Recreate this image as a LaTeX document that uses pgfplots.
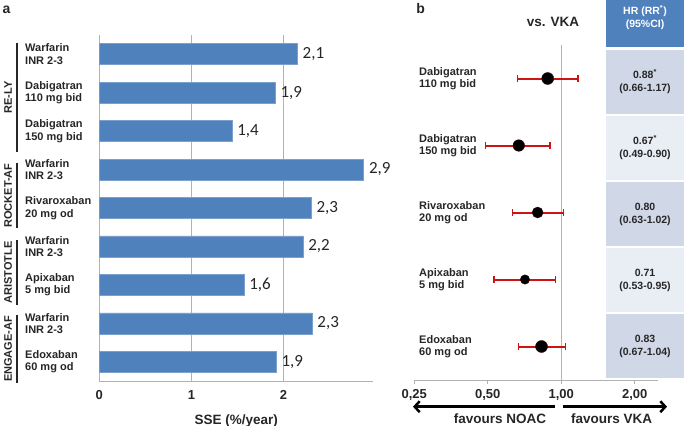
\documentclass[border=0pt]{standalone}
\usepackage{fontspec}
\setmainfont{Liberation Sans}
\newfontfamily\calibri{Carlito}
\usepackage{pgfplots}
\pgfplotsset{compat=1.18}
\usetikzlibrary{arrows.meta}

\definecolor{barblue}{HTML}{4F81BD}
\definecolor{headblue}{HTML}{4F81BD}
\definecolor{rowdark}{HTML}{D0D8E8}
\definecolor{rowlight}{HTML}{E9EDF4}
\definecolor{cired}{HTML}{CC1414}
\definecolor{txt}{HTML}{262626}

\newcommand{\lab}{\fontsize{11bp}{12.5bp}\selectfont\bfseries}

% panel a: SSE per arm (bar length, printed label)
\pgfplotstableread{
x y lab
2.15 0 2,1
1.91 1 1,9
1.44 2 1,4
2.87 3 2,9
2.30 4 2,3
2.21 5 2,2
1.57 6 1,6
2.31 7 2,3
1.92 8 1,9
}\sse

\begin{document}
\begin{tikzpicture}
\path[use as bounding box] (0,0) rectangle (684bp,426bp);

% ---------------- panel a ----------------
\begin{axis}[
  at={(99.3bp,45bp)}, anchor=south west,
  scale only axis, width=273.7bp, height=346bp,
  xbar, bar width=21bp,
  xmin=0, xmax=2.97, ymin=-0.5, ymax=8.5, y dir=reverse,
  axis lines*=left,
  axis line style={draw=black!30, line width=0.8bp},
  xtick={0,1,2}, xmajorgrids, grid style={black!30, line width=0.8bp},
  major tick length=0pt,
  /pgf/number format/assume math mode=true,
  xticklabel style={font=\fontsize{13bp}{15bp}\selectfont\bfseries, text=txt, yshift=-6bp},
  xlabel={SSE (\%/year)},
  xlabel style={font=\fontsize{13.5bp}{15bp}\selectfont\bfseries, text=txt, yshift=-8bp},
  ytick={0,...,8},
  yticklabels={{Warfarin\\INR 2-3},{Dabigatran\\110 mg bid},{Dabigatran\\150 mg bid},
    {Warfarin\\INR 2-3},{Rivaroxaban\\20 mg od},{Warfarin\\INR 2-3},{Apixaban\\5 mg bid},
    {Warfarin\\INR 2-3},{Edoxaban\\60 mg od}},
  yticklabel style={font=\lab, text=txt, align=left, anchor=west, inner sep=0pt, xshift=-74.3bp},
  nodes near coords, point meta=explicit symbolic,
  every node near coord/.append style={font=\calibri\fontsize{17bp}{19bp}\selectfont, text=txt, anchor=west, inner sep=0pt, xshift=5bp},
]
\addplot[fill=barblue, draw=barblue!75!white, line width=0.6bp] table[x=x, y=y, meta=lab] {\sse};
\end{axis}

% group brackets
\begin{scope}[line width=1.3bp, txt]
\draw (17bp,383bp) -- (17bp,274bp);
\draw (17bp,263bp) -- (17bp,198bp);
\draw (17bp,186bp) -- (17bp,121bp);
\draw (17bp,111bp) -- (17bp,43bp);
\end{scope}
\begin{scope}[every node/.style={rotate=90, font=\lab, text=txt, inner sep=0pt}]
\node at (8bp,328.5bp) {RE-LY};
\node at (8bp,230.5bp) {ROCKET-AF};
\node at (8bp,153.5bp) {ARISTOTLE};
\node at (8bp,77bp) {ENGAGE-AF};
\end{scope}
\node[font=\fontsize{14bp}{16bp}\selectfont\bfseries, text=txt] at (6.5bp,416bp) {a};

% ---------------- panel b table ----------------
\fill[headblue] (606bp,426bp) rectangle (684bp,379.3bp);
\fill[rowdark]  (606bp,376bp) rectangle (684bp,312bp);
\fill[rowlight] (606bp,310bp) rectangle (684bp,246bp);
\fill[rowdark]  (606bp,244bp) rectangle (684bp,180.3bp);
\fill[rowlight] (606bp,178.3bp) rectangle (684bp,114.3bp);
\fill[rowdark]  (606bp,112.3bp) rectangle (684bp,48.3bp);
\begin{scope}[every node/.style={font=\fontsize{10.5bp}{13bp}\selectfont\bfseries, align=center, inner sep=0pt}]
\node[text=white] at (645bp,408bp) {HR (RR\textsuperscript{*})\\(95\%CI)};
\node[text=txt] at (645bp,344bp) {0.88\textsuperscript{*}\\(0.66-1.17)};
\node[text=txt] at (645bp,278bp) {0.67\textsuperscript{*}\\(0.49-0.90)};
\node[text=txt] at (645bp,212bp) {0.80\\(0.63-1.02)};
\node[text=txt] at (645bp,146bp) {0.71\\(0.53-0.95)};
\node[text=txt] at (645bp,80bp) {0.83\\(0.67-1.04)};
\end{scope}

% ---------------- panel b forest plot ----------------
\begin{axis}[
  at={(414.3bp,46bp)}, anchor=south west,
  scale only axis, width=243.7bp, height=335bp,
  xmode=log, xmin=0.25, xmax=2.49, ymin=0.5, ymax=5.5, y dir=reverse,
  axis x line*=bottom, axis y line*=left,
  x axis line style={draw=black!30, line width=0.8bp},
  y axis line style={draw=none},
  xtick={0.25,0.5,1,2}, xticklabels={{0,25},{0,50},{1,00},{2,00}},
  xtick align=outside, major tick length=4bp,
  xtick style={draw=black!30, line width=0.8bp},
  minor xtick={}, 
  xticklabel style={font=\fontsize{13bp}{15bp}\selectfont\bfseries, text=txt, yshift=-2bp},
  ytick={1,...,5}, ytick style={draw=none},
  yticklabels={{Dabigatran\\110 mg bid},{Dabigatran\\150 mg bid},{Rivaroxaban\\20 mg od},
    {Apixaban\\5 mg bid},{Edoxaban\\60 mg od}},
  yticklabel style={font=\lab, text=txt, align=left, anchor=west, inner sep=0pt, xshift=4.7bp},
  clip=false,
]
\draw[black!30, line width=0.8bp] (axis cs:1,0.5) -- (axis cs:1,5.5);
\pgfplotsset{ci/.style={cired, line width=2bp, mark=|, mark size=3.2bp, mark options={line width=1.3bp, solid}},
  pt/.style={only marks, mark=*, mark options={fill=black, draw=black!80!red, line width=0.4bp}}}
\addplot[ci] coordinates {(0.66,1) (1.17,1)};
\addplot[ci] coordinates {(0.49,2) (0.90,2)};
\addplot[ci] coordinates {(0.63,3) (1.02,3)};
\addplot[ci] coordinates {(0.53,4) (0.95,4)};
\addplot[ci] coordinates {(0.67,5) (1.04,5)};
\addplot[pt, mark size=6bp] coordinates {(0.88,1)};
\addplot[pt, mark size=5.8bp] coordinates {(0.67,2)};
\addplot[pt, mark size=5.5bp] coordinates {(0.80,3)};
\addplot[pt, mark size=4.7bp] coordinates {(0.71,4)};
\addplot[pt, mark size=6bp] coordinates {(0.83,5)};
\end{axis}

\node[font=\fontsize{13.5bp}{15bp}\selectfont\bfseries, text=txt] at (553bp,404.3bp) {vs. VKA};
\node[font=\fontsize{14bp}{16bp}\selectfont\bfseries, text=txt] at (420.7bp,417.7bp) {b};

\draw[line width=2.5bp, -{Straight Barb[length=5bp,width=11bp]}] (555bp,19.3bp) -- (413bp,19.3bp);
\draw[line width=2.5bp, -{Straight Barb[length=5bp,width=11bp]}] (563bp,19.3bp) -- (667bp,19.3bp);
\node[font=\fontsize{13.5bp}{15bp}\selectfont\bfseries, text=txt] at (500bp,7bp) {favours NOAC};
\node[font=\fontsize{13.5bp}{15bp}\selectfont\bfseries, text=txt] at (611.7bp,7bp) {favours VKA};
\end{tikzpicture}
\end{document}
